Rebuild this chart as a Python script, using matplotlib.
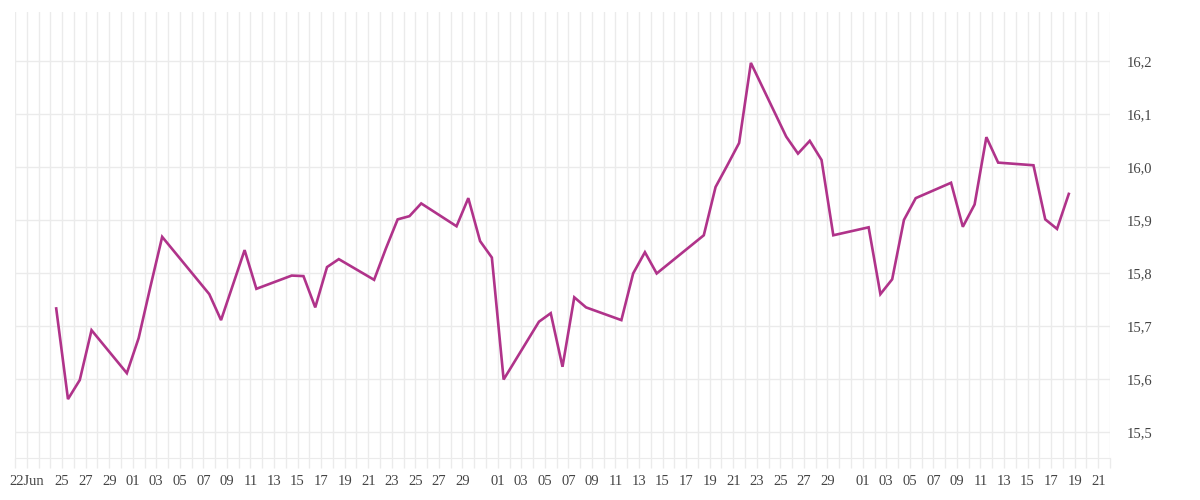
import pandas as pd
import matplotlib.pyplot as plt
import matplotlib.dates as mdates

# daily values (business days)
dates = ['2025-06-24', '2025-06-25', '2025-06-26', '2025-06-27', '2025-06-30',
         '2025-07-01', '2025-07-02', '2025-07-03', '2025-07-04', '2025-07-07',
         '2025-07-08', '2025-07-09', '2025-07-10', '2025-07-11', '2025-07-14',
         '2025-07-15', '2025-07-16', '2025-07-17', '2025-07-18', '2025-07-21',
         '2025-07-22', '2025-07-23', '2025-07-24', '2025-07-25', '2025-07-28',
         '2025-07-29', '2025-07-30', '2025-07-31', '2025-08-01', '2025-08-04',
         '2025-08-05', '2025-08-06', '2025-08-07', '2025-08-08', '2025-08-11',
         '2025-08-12', '2025-08-13', '2025-08-14', '2025-08-15', '2025-08-18',
         '2025-08-19', '2025-08-20', '2025-08-21', '2025-08-22', '2025-08-25',
         '2025-08-26', '2025-08-27', '2025-08-28', '2025-08-29', '2025-09-01',
         '2025-09-02', '2025-09-03', '2025-09-04', '2025-09-05', '2025-09-08',
         '2025-09-09', '2025-09-10', '2025-09-11', '2025-09-12', '2025-09-15',
         '2025-09-16', '2025-09-17', '2025-09-18']
values = [15.733, 15.562, 15.598, 15.692, 15.611,
          15.677, 15.774, 15.868, 15.841, 15.760,
          15.711, 15.777, 15.843, 15.770, 15.795,
          15.794, 15.735, 15.811, 15.826, 15.787,
          15.846, 15.901, 15.907, 15.931, 15.888,
          15.941, 15.860, 15.829, 15.599, 15.708,
          15.724, 15.623, 15.754, 15.735, 15.711,
          15.799, 15.839, 15.799, 15.817, 15.871,
          15.962, 16.003, 16.045, 16.196, 16.057,
          16.025, 16.049, 16.013, 15.871, 15.886,
          15.760, 15.788, 15.900, 15.941, 15.970,
          15.887, 15.929, 16.056, 16.008, 16.003,
          15.901, 15.883, 15.949]

y_ticks = [15.5, 15.6, 15.7, 15.8, 15.9, 16.0, 16.1, 16.2]
y_tick_labels = ['15,5', '15,6', '15,7', '15,8', '15,9', '16,0', '16,1', '16,2']

x_start, x_end = '2025-06-21', '2025-09-22'

grid_c = '#ebebeb'
text_c = '#444444'
line_c = '#b0338a'

plt.rcParams['font.family'] = ['Liberation Serif', 'DejaVu Serif']

fig = plt.figure(figsize=(12, 5), dpi=100)
ax = fig.add_axes([15 / 1200, 42 / 500, 1095 / 1200, 446 / 500])

# points sit in the middle of each day
x = pd.to_datetime(dates) + pd.Timedelta(hours=12)
ax.plot(x, values, color=line_c, linewidth=1.9, solid_joinstyle='miter')

days = pd.date_range(x_start, x_end, freq='D')
ax.set_xticks(days)
labels = []
for d in days:
    if d == pd.Timestamp('2025-06-22'):
        labels.append('22Jun')
    elif d < pd.Timestamp('2025-06-25') or d.day % 2 == 0 or d.day == 31:
        labels.append('')
    elif d > pd.Timestamp('2025-09-21'):
        labels.append('')
    else:
        labels.append('%02d' % d.day)
ax.set_xticklabels(labels)
ax.set_xlim(pd.Timestamp(x_start), pd.Timestamp(x_end))

ax.set_yticks(y_ticks)
ax.set_yticklabels(y_tick_labels)
ax.set_ylim(15.451, 16.292)
ax.yaxis.tick_right()

ax.grid(True, color=grid_c, linewidth=1)
ax.set_axisbelow(True)
for s in ['top', 'left', 'right']:
    ax.spines[s].set_visible(False)
ax.spines['bottom'].set_color(grid_c)

ax.tick_params(axis='x', length=7.5, width=1, color=grid_c, pad=5,
               labelsize=10.5, labelcolor=text_c)
ax.tick_params(axis='y', length=0, pad=12, labelsize=10.5, labelcolor=text_c)

fig.savefig('out.png', dpi=100)
